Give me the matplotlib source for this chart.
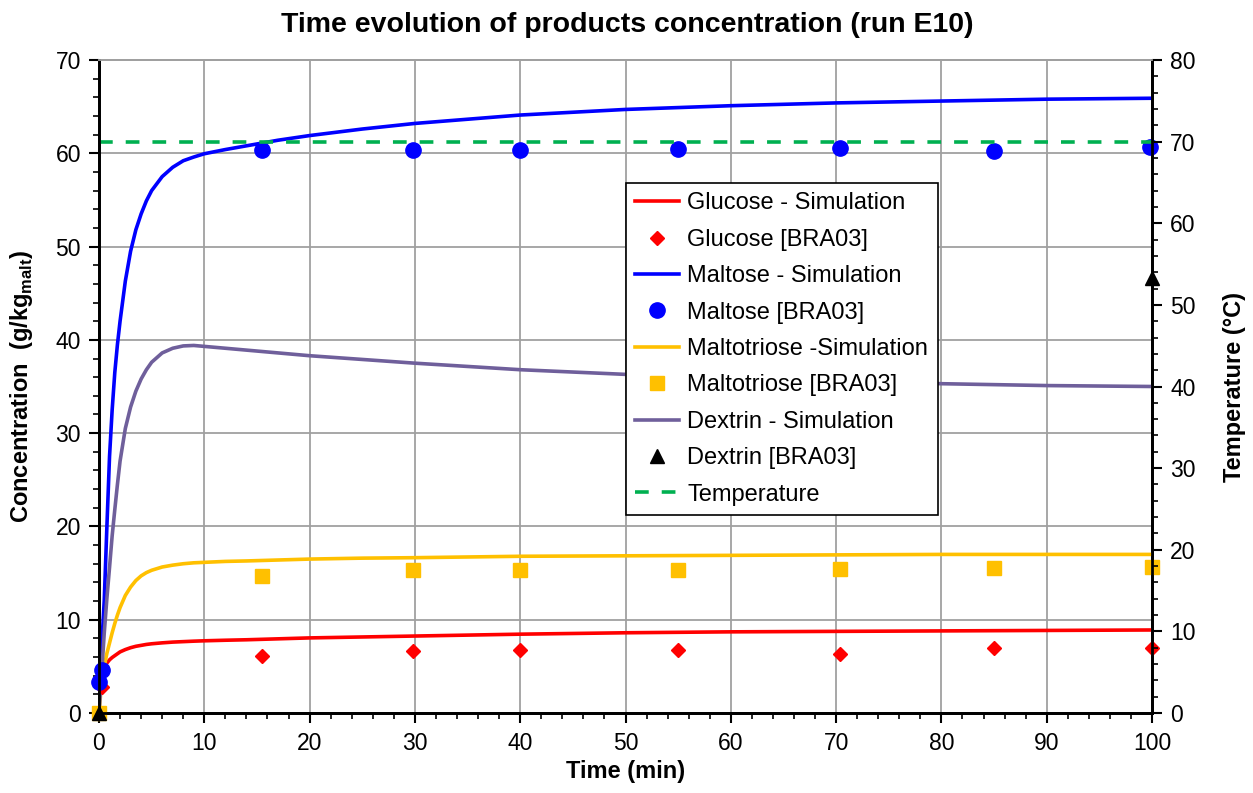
import matplotlib
matplotlib.use("Agg")
import matplotlib.pyplot as plt
from matplotlib.ticker import MultipleLocator
from matplotlib.lines import Line2D

plt.rcParams['font.family'] = ['Liberation Sans', 'DejaVu Sans']
plt.rcParams['mathtext.fontset'] = 'custom'
plt.rcParams['mathtext.rm'] = 'Liberation Sans'
plt.rcParams['mathtext.bf'] = 'Liberation Sans:bold'

# Simulation time grid (min)
t_sim = [0, 0.25, 0.5, 0.75, 1, 1.25, 1.5, 1.75, 2, 2.5, 3, 3.5, 4, 4.5, 5,
         6, 7, 8, 9, 10, 12, 14, 17, 20, 25, 30, 40, 50, 60, 70, 80, 90, 100]

glucose_sim = [2.8, 4.1, 4.9, 5.35, 5.7, 5.95, 6.15, 6.35, 6.55, 6.8, 7.0,
               7.15, 7.25, 7.35, 7.42, 7.52, 7.6, 7.65, 7.7, 7.74, 7.8, 7.85,
               7.95, 8.05, 8.15, 8.25, 8.45, 8.6, 8.7, 8.75, 8.8, 8.85, 8.9]
maltose_sim = [3.4, 7.0, 12.1, 20.0, 27.5, 32.5, 36.5, 39.5, 42.0, 46.3, 49.5,
               51.8, 53.5, 54.9, 56.0, 57.5, 58.5, 59.2, 59.6, 59.95, 60.4,
               60.8, 61.4, 61.9, 62.6, 63.2, 64.1, 64.7, 65.1, 65.4, 65.6,
               65.8, 65.9]
maltotriose_sim = [0.0, 3.3, 5.0, 6.4, 7.5, 8.6, 9.6, 10.5, 11.3, 12.6, 13.5,
                   14.2, 14.7, 15.05, 15.3, 15.65, 15.85, 16.0, 16.1, 16.15,
                   16.25, 16.3, 16.4, 16.5, 16.6, 16.65, 16.8, 16.85, 16.9,
                   16.95, 17.0, 17.0, 17.0]
dextrin_sim = [0.0, 4.2, 8.6, 12.3, 15.6, 19.0, 21.8, 24.5, 27.0, 30.5, 32.8,
               34.5, 35.8, 36.8, 37.6, 38.6, 39.1, 39.35, 39.4, 39.3, 39.1,
               38.9, 38.6, 38.3, 37.9, 37.5, 36.8, 36.3, 35.9, 35.6, 35.3,
               35.1, 35.0]

# Experimental data [BRA03]
t_glc = [0.3, 15.5, 29.8, 40, 55, 70.4, 85, 100]
glucose_exp = [2.8, 6.1, 6.6, 6.75, 6.75, 6.3, 7.0, 7.0]

t_mal = [0.0, 0.25, 15.5, 29.8, 40, 55, 70.4, 85, 99.8]
maltose_exp = [3.3, 4.6, 60.3, 60.4, 60.4, 60.5, 60.6, 60.2, 60.7]

t_mtr = [0.0, 15.5, 29.8, 40, 55, 70.4, 85, 100]
maltotriose_exp = [0.0, 14.7, 15.3, 15.3, 15.3, 15.4, 15.5, 15.6]

t_dex = [0.0, 100]
dextrin_exp = [0.0, 46.6]

# Temperature profile (°C)
t_temp = [0, 100]
temperature = [70, 70]

C_GLC = '#FF0000'
C_MAL = '#0000FF'
C_MTR = '#FFC000'
C_DEX = '#6F5F9B'
C_TMP = '#00B050'
GRID = '#A0A0A0'

fig = plt.figure(figsize=(12.53, 7.93), dpi=100)
ax = fig.add_axes([99/1253, 80/793, (1152-99)/1253, (713-60)/793])
ax2 = ax.twinx()

lw = 2.6
ax.plot(t_sim, glucose_sim, color=C_GLC, lw=lw, zorder=3)
ax.plot(t_sim, maltose_sim, color=C_MAL, lw=lw, zorder=3)
ax.plot(t_sim, maltotriose_sim, color=C_MTR, lw=lw, zorder=3)
ax.plot(t_sim, dextrin_sim, color=C_DEX, lw=lw, zorder=3)

ax.plot(t_glc, glucose_exp, ls='none', marker='D', ms=7.5, color=C_GLC,
        clip_on=False, zorder=5)
ax.plot(t_mal, maltose_exp, ls='none', marker='o', ms=11, color=C_MAL,
        clip_on=False, zorder=5)
ax.plot(t_mtr, maltotriose_exp, ls='none', marker='s', ms=9.5, color=C_MTR,
        clip_on=False, zorder=5)
ax.plot(t_dex, dextrin_exp, ls='none', marker='^', ms=10, color='black',
        clip_on=False, zorder=6)

ax2.plot(t_temp, temperature, color=C_TMP, lw=2.6, ls=(0, (3.8, 3.6)))

ax.set_xlim(0, 100)
ax.set_ylim(0, 70)
ax2.set_ylim(0, 80)

ax.xaxis.set_major_locator(MultipleLocator(10))
ax.xaxis.set_minor_locator(MultipleLocator(2))
ax.yaxis.set_major_locator(MultipleLocator(10))
ax.yaxis.set_minor_locator(MultipleLocator(2))
ax2.yaxis.set_major_locator(MultipleLocator(10))
ax2.yaxis.set_minor_locator(MultipleLocator(2))

ax.grid(True, which='major', color=GRID, lw=1.3)
ax.set_axisbelow(True)

for a in (ax, ax2):
    a.tick_params(which='major', direction='out', length=7, width=1.5,
                  labelsize=16.5, colors='black')
    a.tick_params(which='minor', direction='out', length=4.5, width=1.2)
    a.spines['top'].set_color(GRID)
    a.spines['top'].set_linewidth(1.3)
    for s in ('left', 'right', 'bottom'):
        a.spines[s].set_linewidth(2)
        a.spines[s].set_color('black')
ax.tick_params(axis='x', pad=7)
ax.tick_params(axis='y', pad=6)
ax2.tick_params(axis='y', pad=6)

ax.set_xlabel('Time (min)', fontsize=17, fontweight='bold', labelpad=3)
ax.set_ylabel(r'Concentration  (g/kg$_{\mathbf{malt}}$)', fontsize=17,
              fontweight='bold', labelpad=15)
ax2.set_ylabel('Temperature (°C)', fontsize=17, fontweight='bold',
               labelpad=20)

fig.suptitle('Time evolution of products concentration (run E10)',
             fontsize=20.5, fontweight='bold', y=0.985, x=627/1253)

handles = [
    Line2D([], [], color=C_GLC, lw=lw),
    Line2D([], [], ls='none', marker='D', ms=7.5, color=C_GLC),
    Line2D([], [], color=C_MAL, lw=lw),
    Line2D([], [], ls='none', marker='o', ms=11, color=C_MAL),
    Line2D([], [], color=C_MTR, lw=lw),
    Line2D([], [], ls='none', marker='s', ms=9.5, color=C_MTR),
    Line2D([], [], color=C_DEX, lw=lw),
    Line2D([], [], ls='none', marker='^', ms=10, color='black'),
    Line2D([], [], color=C_TMP, lw=2.6, ls=(0, (3.8, 3.6))),
]
labels = ['Glucose - Simulation', 'Glucose [BRA03]', 'Maltose - Simulation',
          'Maltose [BRA03]', 'Maltotriose -Simulation', 'Maltotriose [BRA03]',
          'Dextrin - Simulation', 'Dextrin [BRA03]', 'Temperature']
leg = ax2.legend(handles, labels, loc='upper left',
                 bbox_to_anchor=(626/1253, 1 - 183/793),
                 bbox_transform=fig.transFigure, borderaxespad=0,
                 fontsize=17, frameon=True, fancybox=False,
                 edgecolor='black', framealpha=1, handlelength=1.85,
                 handletextpad=0.35, labelspacing=0.61, borderpad=0.4)
leg.get_frame().set_linewidth(1.2)

fig.savefig('out.png', dpi=100)
